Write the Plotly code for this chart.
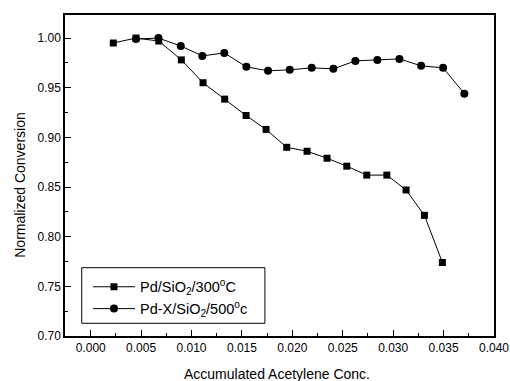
import plotly.graph_objects as go

# Pd/SiO2/300°C (squares)
x_pd = [0.00224, 0.00449, 0.00675, 0.00899, 0.01114, 0.01329, 0.01541, 0.01739,
        0.01944, 0.02146, 0.02344, 0.0254, 0.02738, 0.02937, 0.03128, 0.0331, 0.03488]
y_pd = [0.995, 1.000, 0.997, 0.978, 0.955, 0.9385, 0.922, 0.908,
        0.890, 0.886, 0.879, 0.871, 0.862, 0.862, 0.847, 0.8215, 0.774]

# Pd-X/SiO2/500°c (circles)
x_pdx = [0.00449, 0.00672, 0.00893, 0.01107, 0.01325, 0.01544, 0.01759, 0.01974,
         0.02192, 0.02407, 0.02625, 0.02843, 0.03062, 0.03277, 0.03495, 0.03706]
y_pdx = [0.999, 1.000, 0.992, 0.982, 0.985, 0.971, 0.967, 0.968,
         0.970, 0.969, 0.977, 0.978, 0.979, 0.972, 0.970, 0.944]

name_pd = "Pd/SiO<sub>2</sub>/300<sup>o</sup>C"
name_pdx = "Pd-X/SiO<sub>2</sub>/500<sup>o</sup>c"
x_title = "Accumulated Acetylene Conc."
y_title = "Normalized Conversion"

FONT = "Liberation Sans, Arial, sans-serif"

fig = go.Figure()
fig.add_trace(go.Scatter(x=x_pd, y=y_pd, mode="lines+markers", name=name_pd,
                         line=dict(color="black", width=1),
                         marker=dict(symbol="square", size=7, color="black")))
fig.add_trace(go.Scatter(x=x_pdx, y=y_pdx, mode="lines+markers", name=name_pdx,
                         line=dict(color="black", width=1),
                         marker=dict(symbol="circle", size=8, color="black")))

axis_common = dict(showline=True, linecolor="black", linewidth=1.5, mirror=True,
                   ticks="inside", ticklen=6, tickwidth=1, tickcolor="black",
                   showgrid=False, zeroline=False, automargin=False,
                   tickfont=dict(family=FONT, size=12, color="black"))

fig.update_xaxes(range=[-0.00255, 0.040], dtick=0.005, tick0=0, tickformat=".3f",
                 minor=dict(ticks="inside", ticklen=3, dtick=0.0025, tick0=0,
                            tickcolor="black"),
                 **axis_common)
fig.update_yaxes(range=[0.70, 1.0232], dtick=0.05, tick0=0.70, tickformat=".2f",
                 minor=dict(ticks="inside", ticklen=3, dtick=0.025, tick0=0.70,
                            tickcolor="black"),
                 **axis_common)

fig.add_annotation(text=x_title, xref="paper", yref="paper", x=0.4935, y=-0.118,
                   xanchor="center", yanchor="middle", showarrow=False,
                   font=dict(family=FONT, size=14, color="black"))
fig.add_annotation(text=y_title, xref="paper", yref="paper", x=-0.105, y=0.471,
                   xanchor="center", yanchor="middle", showarrow=False, textangle=-90,
                   font=dict(family=FONT, size=14, color="black"))

# legend frame
fig.add_shape(type="rect", xref="paper", yref="paper", x0=0.039, x1=0.466,
              y0=0.0396, y1=0.2128, line=dict(color="black", width=1),
              fillcolor="white", layer="below")

fig.update_layout(
    width=510, height=381,
    margin=dict(l=65, r=16, t=15, b=45),
    paper_bgcolor="white", plot_bgcolor="white",
    showlegend=True,
    legend=dict(x=0.0536, y=0.203, xanchor="left", yanchor="top",
                borderwidth=0, bgcolor="rgba(0,0,0,0)",
                font=dict(family=FONT, size=14.5, color="black"),
                tracegroupgap=0, itemwidth=42),
)

fig.write_html("out.html")
